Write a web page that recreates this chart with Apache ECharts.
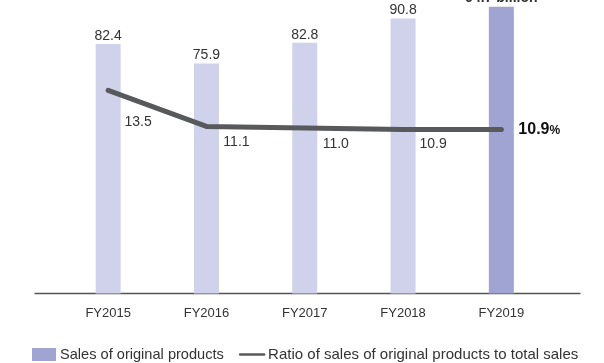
<!DOCTYPE html>
<html>
<head>
<meta charset="utf-8">
<script src="https://cdn.jsdelivr.net/npm/echarts@6/dist/echarts.min.js"></script>
<style>
html,body{margin:0;padding:0;background:#fff;}
#chart{width:604px;height:363px;}
</style>
</head>
<body>
<div id="chart"></div>
<script>
const categories = ['FY2015', 'FY2016', 'FY2017', 'FY2018', 'FY2019'];
const salesValues = [82.4, 75.9, 82.8, 90.8, 94.7];
const ratioValues = [13.5, 11.1, 11.0, 10.9, 10.9];
const seriesNames = ['Sales of original products', 'Ratio of sales of original products to total sales'];
const latestSalesUnit = ' billion';
const latestRatioUnit = '%';

const FONT = '"Liberation Sans", Arial, sans-serif';
const LIGHT = '#d0d2ec';
const DARK = '#a0a4d2';
const LINE = '#58595b';
const TEXT = '#333333';
const last = categories.length - 1;

const ratioLabelOffsets = [[30, 32], [30, 16], [31, 16], [30, 15]];

const barData = salesValues.map((v, i) => {
  if (i === last) {
    return {
      value: v,
      itemStyle: { color: DARK },
      label: { fontWeight: 'bold', formatter: (p) => p.value.toFixed(1) + latestSalesUnit, distance: 0, offset: [0, -2] }
    };
  }
  return { value: v };
});

const lineData = ratioValues.map((v, i) => {
  if (i === last) {
    return {
      value: v,
      label: {
        position: 'right', distance: 15,
        formatter: (p) => '{a|' + p.value.toFixed(1) + '}{b|' + latestRatioUnit + '}',
        rich: {
          a: { fontFamily: FONT, fontSize: 16, fontWeight: 'bold', color: '#111' },
          b: { fontFamily: FONT, fontSize: 12, fontWeight: 'bold', color: '#111', padding: [2, 0, 0, 0] }
        }
      }
    };
  }
  return { value: v, label: { position: 'inside', offset: ratioLabelOffsets[i] } };
});

const chart = echarts.init(document.getElementById('chart'));
chart.setOption({
  animation: false,
  backgroundColor: '#fff',
  textStyle: { fontFamily: FONT },
  grid: [
    { left: 59, right: 53.5, top: 0, bottom: 69.5 },
    { left: 35, right: 24, top: 0, bottom: 69.5 }
  ],
  legend: {
    left: 27,
    top: 342,
    itemWidth: 24,
    itemHeight: 13,
    itemGap: 15,
    textStyle: { fontFamily: FONT, fontSize: 14.6, color: TEXT, padding: [0, 0, 0, -1] },
    data: [
      { name: seriesNames[0], icon: 'rect', itemStyle: { color: DARK } },
      { name: seriesNames[1], itemStyle: { color: 'rgba(0,0,0,0)', borderWidth: 0 }, lineStyle: { color: LINE, width: 2.5 },
        textStyle: { fontSize: 15 } }
    ]
  },
  xAxis: [
    {
      type: 'category', gridIndex: 0, data: categories, boundaryGap: true,
      axisLine: { show: false }, axisTick: { show: false },
      axisLabel: { fontFamily: FONT, fontSize: 13, color: TEXT, margin: 13 }
    },
    {
      type: 'value', gridIndex: 1, min: 0, max: 1,
      axisLine: { show: true, lineStyle: { color: '#555', width: 1.3 } },
      axisTick: { show: false }, axisLabel: { show: false }, splitLine: { show: false }
    }
  ],
  yAxis: [
    { type: 'value', gridIndex: 0, min: 0, max: 96.9, show: false, splitLine: { show: false } },
    { type: 'value', gridIndex: 0, min: 0, max: 19.5, show: false, splitLine: { show: false } },
    { type: 'value', gridIndex: 1, min: 0, max: 1, show: false }
  ],
  series: [
    {
      name: seriesNames[0],
      type: 'bar',
      xAxisIndex: 0, yAxisIndex: 0,
      barWidth: 25,
      itemStyle: { color: LIGHT },
      label: { show: true, position: 'top', distance: 1, fontFamily: FONT, fontSize: 14, color: TEXT,
               formatter: (p) => p.value.toFixed(1) },
      data: barData,
      z: 2
    },
    {
      name: seriesNames[1],
      type: 'line',
      xAxisIndex: 0, yAxisIndex: 1,
      symbol: 'circle',
      symbolSize: 4,
      itemStyle: { color: LINE },
      lineStyle: { color: LINE, width: 5, cap: 'round', join: 'round' },
      label: { show: true, fontFamily: FONT, fontSize: 14, color: TEXT, formatter: (p) => p.value.toFixed(1) },
      data: lineData,
      z: 3
    }
  ]
});
</script>
</body>
</html>
